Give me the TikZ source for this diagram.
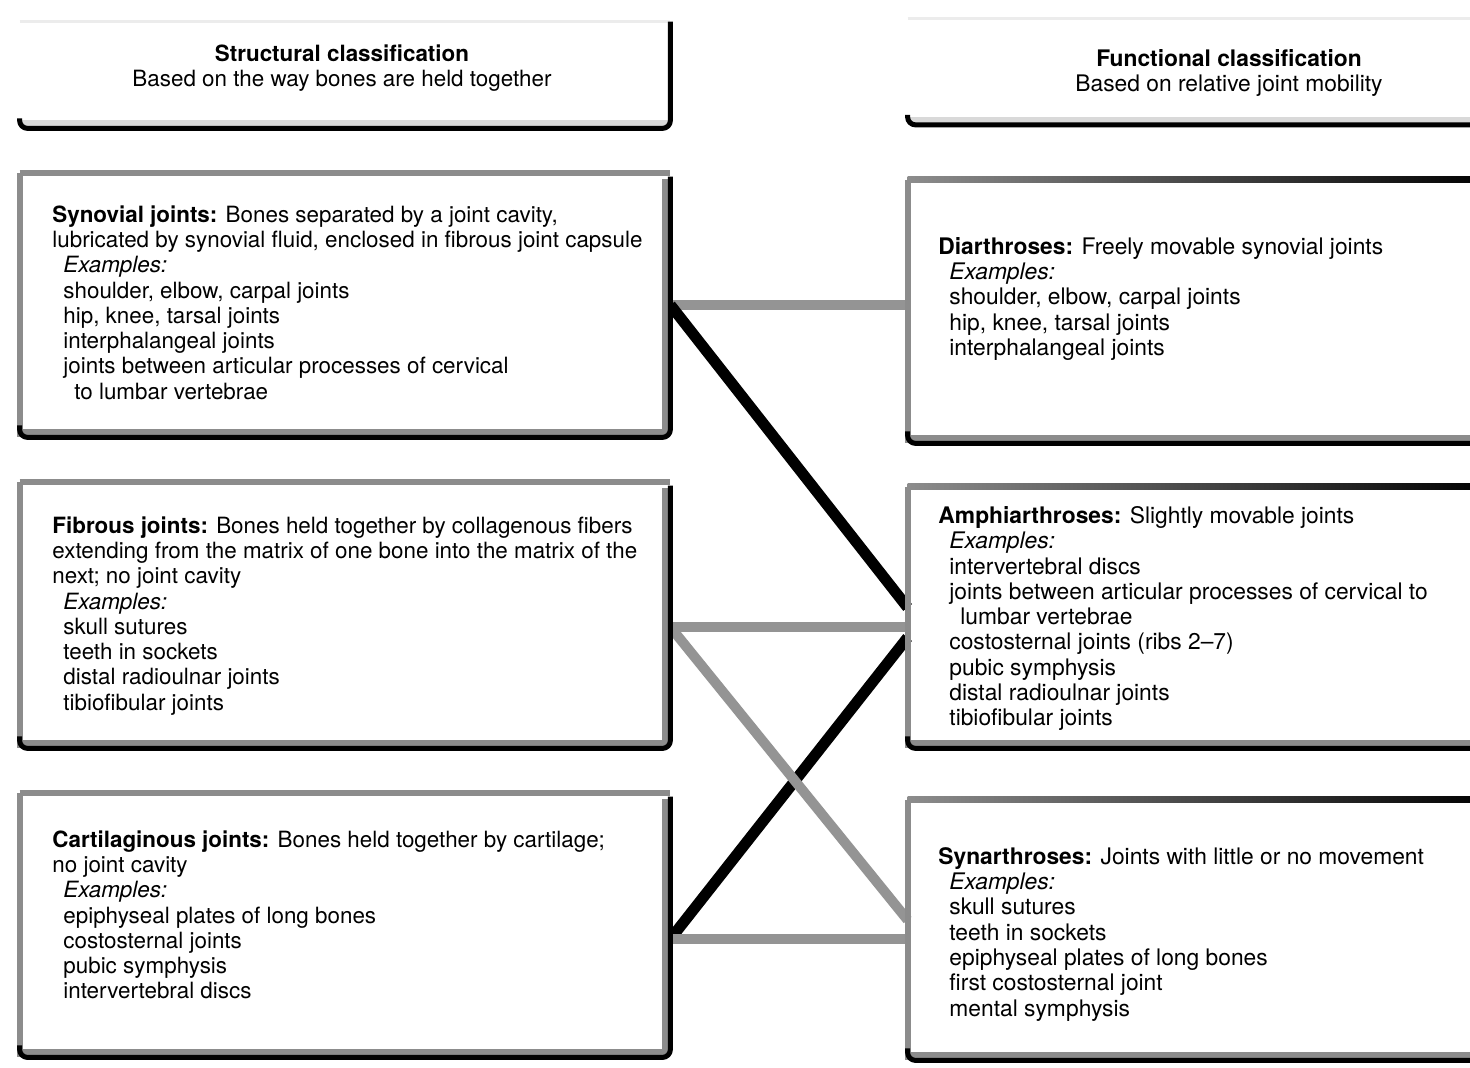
\documentclass[tikz,border=0pt]{standalone}
\usepackage{fontspec}
\setmainfont{TeX Gyre Heros}
\usetikzlibrary{positioning}
\tikzstyle{joint} = [minimum width=325pt, inner sep=0pt]
\tikzstyle{rim} = [draw=black!45, line width=3pt]
\tikzstyle{darkrim} = [draw=black, line width=2.5pt, rounded corners=4pt]
\tikzstyle{txtL} = [anchor=north west, inner sep=0pt, align=left, font=\fontsize{11.2}{12.65}\selectfont]
\tikzstyle{txtR} = [anchor=north west, inner sep=0pt, align=left, font=\fontsize{11.4}{12.65}\selectfont]
\tikzstyle{graylink} = [draw=black!42, line width=5pt]
\tikzstyle{blacklink} = [draw=black, line width=5.5pt]
\newcommand{\ind}{\hspace*{5.5pt}}
\newcommand{\frameit}[1]{%
  \draw[rim] (#1.north west) -- (#1.north east);
  \draw[rim] (#1.north west) -- (#1.south west);
  \draw[rim] ([xshift=-2.5pt,yshift=3pt]#1.south east) -- ([xshift=-2.5pt,yshift=-3pt]#1.north east);
  \draw[rim] ([yshift=2.5pt]#1.south west) -- ([yshift=2.5pt]#1.south east);
  \draw[darkrim] ([yshift=6pt]#1.south west) |- (#1.south east) -- ([yshift=-2pt]#1.north east);
}

\begin{document}
\begin{tikzpicture}[x=0.5pt, y=-0.5pt]
  \useasboundingbox (0,0) rectangle (1470,1067);
  % structural side
  \node[joint, minimum height=53pt] (hdrL) at (345,75) {};
  \node[joint, minimum height=132pt] (synL) at (345,305) {};
  \node[joint, minimum height=133pt] (fibL) at (345,615) {};
  \node[joint, minimum height=132pt] (carL) at (345,925) {};
  % functional side
  \node[joint, minimum width=291pt, minimum height=53pt] (hdrR) at (1199,71.5) {};
  \node[joint, minimum width=291pt, minimum height=131.5pt] (diaR) at (1199,311.5) {};
  \node[joint, minimum width=291pt, minimum height=130.5pt] (ampR) at (1199,617.5) {};
  \node[joint, minimum width=291pt, minimum height=130pt] (synR) at (1199,930) {};

  % links
  \draw[graylink] (synL.east) -- (synL.east -| diaR.west);
  \draw[blacklink] (synL.east) -- ([yshift=5pt]ampR.west);
  \draw[graylink] ([yshift=-6pt]fibL.east) -- ([yshift=-6pt]fibL.east -| ampR.west);
  \draw[blacklink] ([yshift=-7pt]carL.east) -- ([yshift=-10pt]ampR.west);
  \draw[graylink] ([yshift=-6pt]fibL.east) -- ([yshift=5pt]synR.west);
  \draw[graylink] ([yshift=-7pt]carL.east) -- ([yshift=-7pt]carL.east -| synR.west);

  % headers
  \draw[draw=gray!15, line width=1.5pt] (hdrL.north west) -- (hdrL.north east);
  \draw[draw=gray!30, line width=3pt] ([yshift=2.5pt]hdrL.south west) -- ([yshift=2.5pt]hdrL.south east);
  \draw[darkrim] ([yshift=5pt]hdrL.south west) |- (hdrL.south east) -- (hdrL.north east);
  \draw[draw=gray!15, line width=1.5pt] (hdrR.north west) -- (hdrR.north east);
  \draw[draw=gray!30, line width=3pt] ([yshift=2.5pt]hdrR.south west) -- ([yshift=2.5pt]hdrR.south east);
  \draw[darkrim] ([yshift=5pt]hdrR.south west) |- (hdrR.south east);
  \node[align=center, inner sep=0pt, font=\fontsize{11.2}{12.65}\selectfont] (hdrLt) at (342,68)
    {\textbf{Structural classification}\\Based on the way bones are held together};
  \node[align=center, inner sep=0pt, font=\fontsize{11.4}{12.65}\selectfont] (hdrRt) at (1229,73)
    {\textbf{Functional classification}\\Based on relative joint mobility};

  % boxes
  \frameit{synL}
  \frameit{fibL}
  \frameit{carL}
  \frameit{diaR}
  \frameit{ampR}
  \frameit{synR}
  \foreach \b in {diaR, ampR, synR}
    \shade[left color=black!45, right color=black] ([yshift=1.5pt]\b.north west) rectangle ([yshift=-1.5pt]\b.north east);

  \node[txtL] (synT) at (52,205) {\textbf{Synovial joints:} Bones separated by a joint cavity,\\
    lubricated by synovial fluid, enclosed in fibrous joint capsule\\
    \ind\textit{Examples:}\\
    \ind shoulder, elbow, carpal joints\\
    \ind hip, knee, tarsal joints\\
    \ind interphalangeal joints\\
    \ind joints between articular processes of cervical\\
    \ind\ind to lumbar vertebrae};
  \node[txtL] (fibT) at (52,516) {\textbf{Fibrous joints:} Bones held together by collagenous fibers\\
    extending from the matrix of one bone into the matrix of the\\
    next; no joint cavity\\
    \ind\textit{Examples:}\\
    \ind skull sutures\\
    \ind teeth in sockets\\
    \ind distal radioulnar joints\\
    \ind tibiofibular joints};
  \node[txtL] (carT) at (52,830) {\textbf{Cartilaginous joints:} Bones held together by cartilage;\\
    no joint cavity\\
    \ind\textit{Examples:}\\
    \ind epiphyseal plates of long bones\\
    \ind costosternal joints\\
    \ind pubic symphysis\\
    \ind intervertebral discs};
  \node[txtR] (diaT) at (938,237) {\textbf{Diarthroses:} Freely movable synovial joints\\
    \ind\textit{Examples:}\\
    \ind shoulder, elbow, carpal joints\\
    \ind hip, knee, tarsal joints\\
    \ind interphalangeal joints};
  \node[txtR] (ampT) at (938,506) {\textbf{Amphiarthroses:} Slightly movable joints\\
    \ind\textit{Examples:}\\
    \ind intervertebral discs\\
    \ind joints between articular processes of cervical to\\
    \ind\ind lumbar vertebrae\\
    \ind costosternal joints (ribs 2--7)\\
    \ind pubic symphysis\\
    \ind distal radioulnar joints\\
    \ind tibiofibular joints};
  \node[txtR] (synrT) at (938,847) {\textbf{Synarthroses:} Joints with little or no movement\\
    \ind\textit{Examples:}\\
    \ind skull sutures\\
    \ind teeth in sockets\\
    \ind epiphyseal plates of long bones\\
    \ind first costosternal joint\\
    \ind mental symphysis};
\end{tikzpicture}
\end{document}
